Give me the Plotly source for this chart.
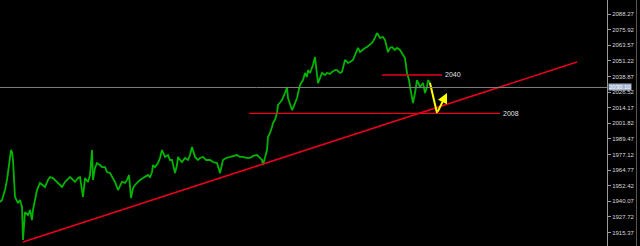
import plotly.graph_objects as go

# Bar index and price
bars = [0,2,5,7,9,11,12,13,15,18,20,22,23,25,28,30,32,33,35,37,40,43,45,48,50,53,55,58,60,62,
        65,67,70,73,75,78,80,83,85,88,90,92,93,95,97,100,102,105,107,110,113,115,118,120,122,125,
        127,129,131,133,135,138,140,143,145,148,150,152,153,155,158,160,162,165,168,170,172,175,
        177,178,180,182,185,188,190,192,195,198,200,203,206,208,210,213,217,220,223,226,230,233,
        237,240,243,246,250,253,257,260,262,263,265,267,268,270,272,273,275,277,278,280,282,285,
        287,288,290,292,293,295,297,300,303,305,307,308,310,313,315,318,320,322,325,327,330,332,
        335,337,340,342,345,348,350,353,355,358,360,362,365,367,370,372,375,377,380,383,385,388,
        390,392,395,397,400,402,405,407,409,410,412,413,415,417,420,423,425,427,428,430]
prices = [1939.4,1941.0,1948.9,1956.9,1968.7,1980.6,1979.0,1972.7,1943.4,1938.6,1941.0,1935.5,
          1909.3,1931.5,1929.1,1933.1,1925.2,1933.1,1941.0,1948.9,1954.5,1952.9,1951.3,1956.9,
          1959.2,1958.4,1956.9,1954.5,1952.9,1951.3,1955.3,1956.9,1959.2,1956.9,1955.3,1958.4,
          1959.2,1943.4,1958.4,1955.3,1960.8,1980.6,1956.9,1966.4,1970.3,1968.7,1967.1,1967.1,
          1963.2,1962.4,1958.4,1955.3,1948.9,1952.9,1955.3,1954.5,1956.9,1960.8,1942.6,1950.5,
          1952.9,1955.3,1956.9,1958.4,1959.2,1960.8,1959.2,1963.2,1968.7,1967.1,1970.3,1974.3,
          1980.6,1975.1,1976.6,1972.7,1972.7,1962.4,1968.7,1975.1,1972.7,1971.1,1974.3,1972.7,
          1976.6,1983.0,1975.1,1972.7,1974.3,1975.1,1972.7,1972.7,1972.7,1971.1,1970.3,1962.4,
          1972.7,1974.3,1975.1,1975.9,1976.6,1975.1,1975.1,1974.3,1974.3,1975.9,1976.6,1974.3,
          1972.7,1968.7,1975.1,1980.6,1990.9,1994.1,1998.8,2002.0,2004.4,2009.9,2016.2,2017.8,
          2020.2,2025.7,2030.5,2021.8,2017.8,2012.3,2013.8,2017.8,2021.8,2032.1,2036.0,2041.6,
          2038.4,2043.9,2041.6,2047.9,2054.2,2033.6,2038.4,2041.6,2040.0,2041.6,2040.8,2042.4,
          2043.9,2043.9,2041.6,2042.4,2051.9,2049.5,2050.3,2051.9,2055.8,2061.4,2058.2,2059.8,
          2061.4,2062.1,2063.7,2065.3,2069.3,2073.2,2069.3,2070.1,2067.7,2058.2,2061.4,2062.1,
          2059.8,2061.4,2059.8,2057.4,2053.4,2041.6,2036.0,2030.5,2022.6,2017.8,2025.7,2036.0,
          2030.5,2033.6,2025.7,2030.5,2036.0,2033.6]

# Horizontal levels
level_prices = [2040.0, 2009.6]
level_labels = ["2040", "2008"]
level_starts = [382, 249]
level_ends = [442, 500]

# Trend line
trend_bars = [23, 577]
trend_prices = [1907.8, 2050.3]

# Projected path (yellow)
path_bars = [430, 437]
path_prices = [2033.6, 2009.9]
arrow_end_bar, arrow_end_price = 447, 2025.7

current_price = 2030.10

# Axis ticks
tick_vals = [1915.37, 1927.72, 1940.07, 1952.42, 1964.77, 1977.12, 1989.47, 2001.82,
             2014.17, 2026.52, 2038.87, 2051.22, 2063.57, 2075.92, 2088.27]
tick_text = [f"{v:.2f}" for v in tick_vals]

fig = go.Figure()

fig.add_trace(go.Scatter(x=bars, y=prices, mode="lines",
                         line=dict(color="#00b400", width=1.8), hoverinfo="skip"))

for p, s, e in zip(level_prices, level_starts, level_ends):
    fig.add_trace(go.Scatter(x=[s, e], y=[p, p], mode="lines",
                             line=dict(color="#e8001c", width=1.4), hoverinfo="skip"))

fig.add_trace(go.Scatter(x=trend_bars, y=trend_prices, mode="lines",
                         line=dict(color="#e8001c", width=1.6), hoverinfo="skip"))

fig.add_trace(go.Scatter(x=path_bars, y=path_prices, mode="lines",
                         line=dict(color="#ffff00", width=2), hoverinfo="skip"))

fig.add_annotation(x=arrow_end_bar, y=arrow_end_price, ax=path_bars[-1], ay=path_prices[-1],
                   xref="x", yref="y", axref="x", ayref="y", showarrow=True,
                   arrowhead=2, arrowsize=1, arrowwidth=2, arrowcolor="#ffff00", text="")

for p, e, lab in zip(level_prices, level_ends, level_labels):
    fig.add_annotation(x=e + 1, y=p, xref="x", yref="y", text=lab, showarrow=False,
                       xanchor="left", yanchor="middle",
                       font=dict(family="Liberation Sans", size=7, color="#e0e0e0"))

# current price line and label
fig.add_shape(type="line", xref="x", yref="y", x0=0, x1=607, y0=current_price, y1=current_price,
              line=dict(color="#808080", width=1))
fig.add_annotation(x=607 / 640 + 0.002, y=current_price, xref="paper", yref="y",
                   text=f"{current_price:.2f}", showarrow=False, xanchor="left", yanchor="middle",
                   bgcolor="#9fb0cc", borderpad=0,
                   font=dict(family="Liberation Sans", size=6, color="#ffffff"))

# right window border
fig.add_shape(type="line", xref="paper", yref="paper", x0=0.9945, x1=0.9945, y0=0, y1=1,
              line=dict(color="#5a5a5a", width=1))

fig.update_layout(
    width=640, height=246, margin=dict(l=0, r=0, t=0, b=0),
    paper_bgcolor="#000000", plot_bgcolor="#000000", showlegend=False,
    xaxis=dict(range=[0, 607], domain=[0, 607 / 640], visible=False, fixedrange=True),
    yaxis=dict(range=[1904.6, 2099.35], side="right", showgrid=False, zeroline=False,
               showline=True, linecolor="#9a9a9a", linewidth=1,
               ticks="outside", ticklen=3, tickcolor="#9a9a9a",
               tickvals=tick_vals, ticktext=tick_text,
               tickfont=dict(family="Liberation Sans", size=6, color="#d8d8d8")),
)

fig.write_html("out.html")
